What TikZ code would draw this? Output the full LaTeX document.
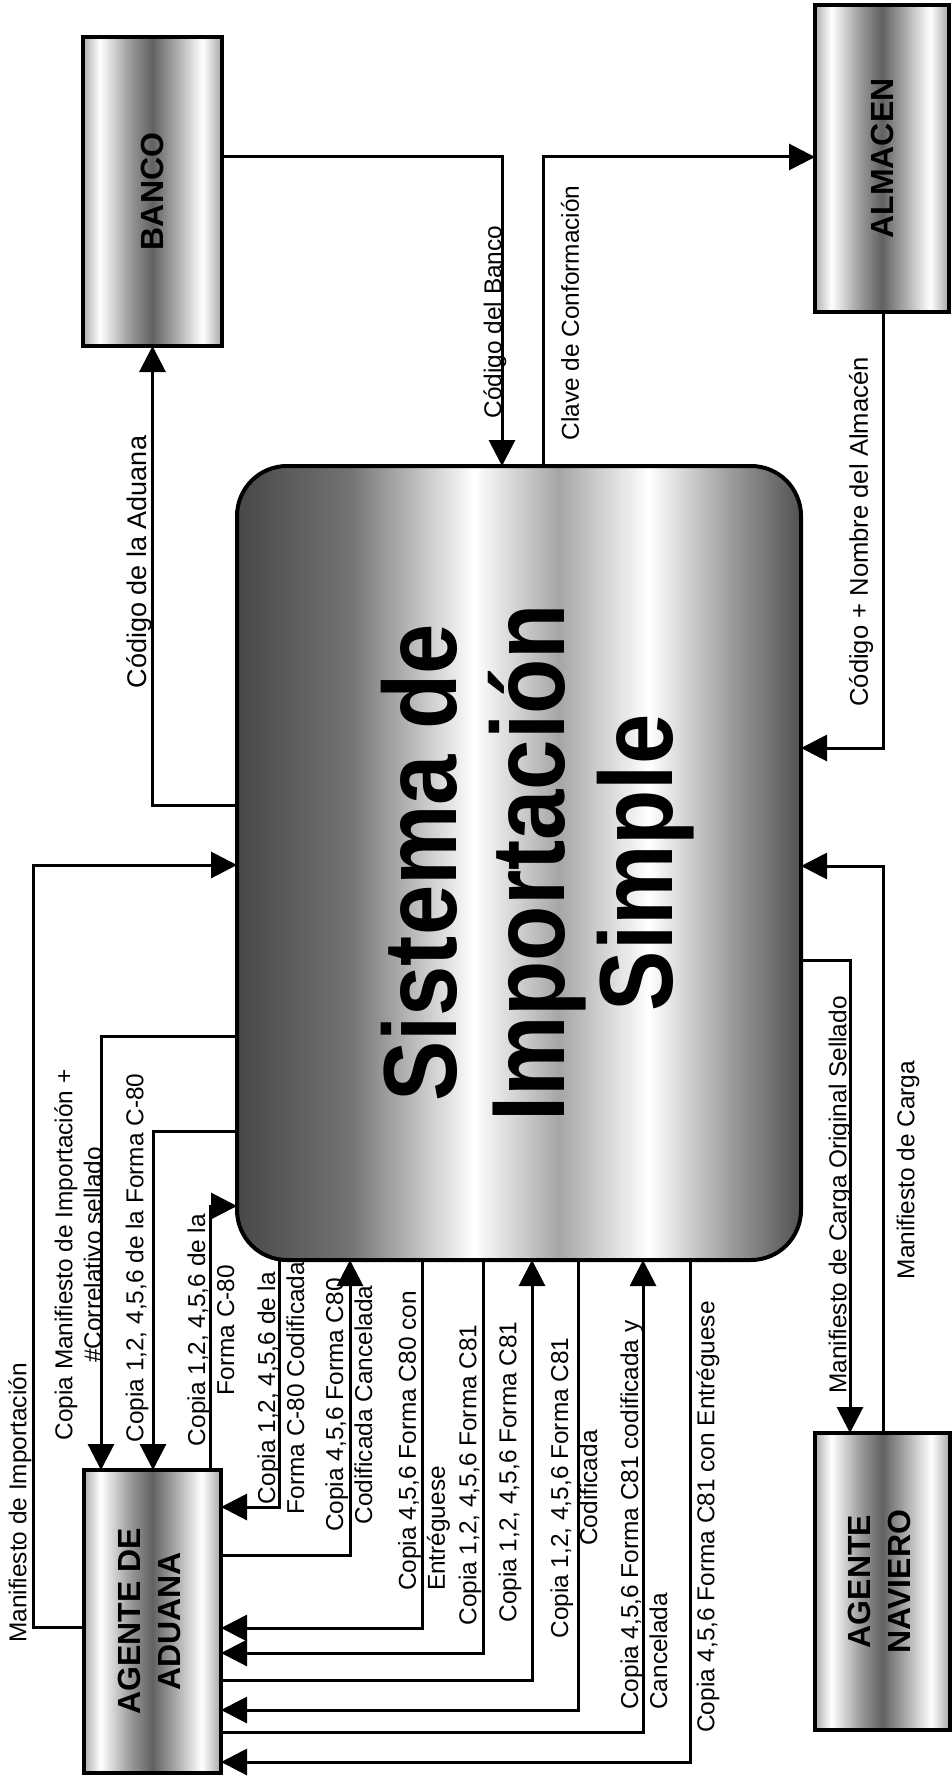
\documentclass[tikz,border=0pt]{standalone}
\usepackage{fontspec}
\setmainfont{Liberation Sans}
\usepackage{graphicx}
\usetikzlibrary{arrows.meta}
\pgfdeclarehorizontalshading{entshade}{100bp}{color(0bp)=(black!32); color(25bp)=(black!32); color(31bp)=(white); color(42bp)=(black!40); color(50bp)=(black!62); color(58bp)=(black!35); color(68bp)=(white); color(75bp)=(black!35); color(100bp)=(black!35)}
\pgfdeclarehorizontalshading{mainshade}{100bp}{color(0bp)=(black!72); color(25bp)=(black!72); color(35bp)=(black!55); color(46bp)=(white); color(53.5bp)=(black!35); color(61.5bp)=(white); color(69bp)=(black!40); color(75bp)=(black!68); color(100bp)=(black!68)}
\begin{document}
\begin{tikzpicture}[x=0.5pt,y=-0.5pt,
  ent/.style={draw=black,line width=2pt,shading=entshade,inner sep=0pt,outer sep=0pt,font=\bfseries\fontsize{16}{20}\selectfont},
  mainbox/.style={draw=black,line width=2pt,rounded corners=25pt,shading=mainshade,inner sep=0pt,outer sep=0pt,font=\bfseries\fontsize{52}{54}\selectfont},
  arr/.style={line width=1.5pt,-{Triangle[length=13pt,width=13pt]}},
  lbl/.style={rotate=90,inner sep=0pt,align=center,font=\fontsize{12.2}{14.5}\selectfont},
  lbll/.style={lbl,align=left}
]
\fill[white] (0,0) rectangle (952,1787);
\useasboundingbox (0,0) rectangle (952,1787);

% boxes
\node[ent,minimum width=69.5pt,minimum height=154.5pt] (BANCO) at (152.5,191.5) {\rotatebox{90}{BANCO}};
\node[ent,minimum width=67pt,minimum height=153.5pt] (ALMACEN) at (882,158.5) {\rotatebox{90}{ALMACEN}};
\node[ent,minimum width=68.5pt,minimum height=151.5pt] (AGENTE) at (152.5,1621.5) {\rotatebox{90}{\begin{tabular}{@{}c@{}}AGENTE DE\\ADUANA\end{tabular}}};
\node[ent,minimum width=67.5pt,minimum height=148.5pt] (NAVIERO) at (882.5,1581.5) {\rotatebox{90}{\begin{tabular}{@{}c@{}}AGENTE\\NAVIERO\end{tabular}}};
\node[mainbox,minimum width=282pt,minimum height=397pt] (M) at (519,863) {\hspace*{24pt}\rotatebox{90}{\scalebox{0.87}[1]{\begin{tabular}{@{}c@{}}Sistema de\\Importación\\Simple\end{tabular}}}};

% helper coordinates
\coordinate (y157) at (0,157);
\coordinate (y748) at (0,748);
\coordinate (y805) at (0,805);
\coordinate (y865) at (0,865);
\coordinate (y866) at (0,866);
\coordinate (y960) at (0,960);
\coordinate (y1036) at (0,1036);
\coordinate (y1131) at (0,1131);
\coordinate (y1206) at (0,1206);
\coordinate (y1507) at (0,1507);
\coordinate (y1555) at (0,1555);
\coordinate (y1627) at (0,1627);
\coordinate (y1628) at (0,1628);
\coordinate (y1653) at (0,1653);
\coordinate (y1680) at (0,1680);
\coordinate (y1710) at (0,1710);
\coordinate (y1732) at (0,1732);
\coordinate (y1762) at (0,1762);
\coordinate (x33) at (33,0);
\coordinate (x101) at (101,0);
\coordinate (x153) at (153,0);
\coordinate (x210) at (210,0);
\coordinate (x279) at (279,0);
\coordinate (x350) at (350,0);
\coordinate (x422) at (422,0);
\coordinate (x483) at (483,0);
\coordinate (x502) at (502,0);
\coordinate (x532) at (532,0);
\coordinate (x543) at (543,0);
\coordinate (x578) at (578,0);
\coordinate (x643) at (643,0);
\coordinate (x690) at (690,0);
\coordinate (x850) at (850,0);
\coordinate (x883) at (883,0);

% connectors
\draw[arr] (M.west |- y805) -| (BANCO.south);
\draw[arr] (BANCO.east |- y157) -| (M.north -| x502);
\draw[arr] (M.north -| x543) |- (ALMACEN.west |- y157);
\draw[arr] (ALMACEN.south -| x883) |- (M.east |- y748);
\draw[arr] (NAVIERO.north -| x883) |- (M.east |- y866);
\draw[arr] (M.east |- y960) -| (NAVIERO.north -| x850);
\draw[arr] (AGENTE.west |- y1627) -| (x33 |- y865) -- (M.west |- y865);
\draw[arr] (M.west |- y1036) -| (AGENTE.north -| x101);
\draw[arr] (M.west |- y1131) -| (AGENTE.north -| x153);
\draw[arr] (AGENTE.north -| x210) |- (M.west |- y1206);
\draw[arr] (M.south -| x279) |- (AGENTE.east |- y1507);
\draw[arr] (AGENTE.east |- y1555) -| (M.south -| x350);
\draw[arr] (M.south -| x422) |- (AGENTE.east |- y1628);
\draw[arr] (M.south -| x483) |- (AGENTE.east |- y1653);
\draw[arr] (AGENTE.east |- y1680) -| (M.south -| x532);
\draw[arr] (M.south -| x578) |- (AGENTE.east |- y1710);
\draw[arr] (AGENTE.east |- y1732) -| (M.south -| x643);
\draw[arr] (M.south -| x690) |- (AGENTE.east |- y1762);

% labels
\node[lbl,font=\fontsize{13.5}{16}\selectfont] (l1) at (139,562) {Código de la Aduana};
\node[lbl] (l2) at (495,322) {Código del Banco};
\node[lbl] (l3) at (570,313) {Clave de Conformación};
\node[lbl,font=\fontsize{12.8}{15}\selectfont] (l4) at (861,532) {Código + Nombre del Almacén};
\node[lbl] (l5) at (908,1170) {Manifiesto de Carga};
\node[lbl] (l6) at (840,1195) {Manifiesto de Carga Original Sellado};
\node[lbl] (l7) at (20,1503) {Manifiesto de Importación};
\node[lbl] (l8) at (78,1255) {Copia Manifiesto de Importación +\\\#Correlativo sellado};
\node[lbl] (l9) at (137,1258) {Copia 1,2, 4,5,6 de la Forma C-80};
\node[lbl] (l10) at (211,1330) {Copia 1,2, 4,5,6 de la\\Forma C-80};
\node[lbl] (l11) at (281,1388) {Copia 1,2, 4,5,6 de la\\Forma C-80 Codificada};
\node[lbl] (l12) at (349,1405) {Copia 4,5,6 Forma C80\\Codificada Cancelada};
\node[lbll] (l13) at (424,1441) {Copia 4,5,6 Forma C80 con\\Entréguese};
\node[lbl] (l14) at (470,1475) {Copia 1,2, 4,5,6 Forma C81};
\node[lbl] (l15) at (510,1472) {Copia 1,2, 4,5,6 Forma C81};
\node[lbl] (l16) at (574,1488) {Copia 1,2, 4,5,6 Forma C81\\Codificada};
\node[lbll] (l17) at (644,1515) {Copia 4,5,6 Forma C81 codificada y\\Cancelada};
\node[lbl] (l18) at (708,1517) {Copia 4,5,6 Forma C81 con Entréguese};
\end{tikzpicture}
\end{document}
